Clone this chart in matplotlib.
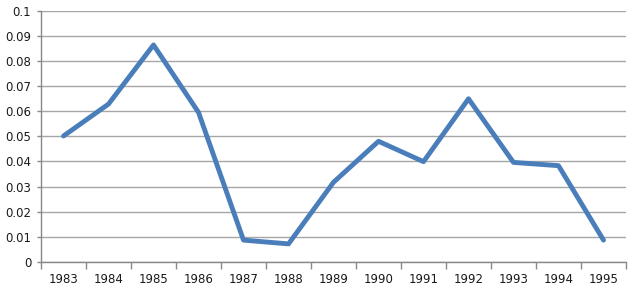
import matplotlib
matplotlib.use("Agg")
import matplotlib.pyplot as plt
import numpy as np

years = ["1983", "1984", "1985", "1986", "1987", "1988", "1989",
         "1990", "1991", "1992", "1993", "1994", "1995"]
values = [0.0501, 0.0628, 0.0863, 0.0595, 0.0087, 0.0072, 0.0317,
          0.0480, 0.0399, 0.0649, 0.0396, 0.0383, 0.0087]

fig = plt.figure(figsize=(6.4, 2.91), dpi=100)
ax = fig.add_axes([41 / 640, 29 / 291, 585 / 640, 251.5 / 291])

x = np.arange(len(years))
ax.plot(x, values, color="#4A7EBB", linewidth=3.5, solid_joinstyle="round",
        solid_capstyle="round", zorder=3)

ax.set_xlim(-0.5, len(years) - 0.5)
ax.set_ylim(0, 0.1)
ax.set_yticks(np.arange(0, 0.101, 0.01))
ax.set_yticklabels(["0", "0.01", "0.02", "0.03", "0.04", "0.05",
                    "0.06", "0.07", "0.08", "0.09", "0.1"])
ax.set_xticks(x)
ax.set_xticklabels(years)
ax.set_xticks(np.arange(-0.5, len(years), 1), minor=True)

ax.grid(axis="y", color="#A6A6A6", linewidth=1.0, zorder=0)
ax.tick_params(axis="x", which="major", length=0, pad=8, labelsize=8.5, colors="#1a1a1a")
ax.tick_params(axis="x", which="minor", length=5, color="#888888", width=1)
ax.tick_params(axis="y", length=3, color="#888888", width=1, pad=4, labelsize=8.5, labelcolor="#1a1a1a")

for s in ["top", "right"]:
    ax.spines[s].set_visible(False)
for s in ["left", "bottom"]:
    ax.spines[s].set_color("#888888")
    ax.spines[s].set_linewidth(1)

fig.savefig("out.png", dpi=100)
